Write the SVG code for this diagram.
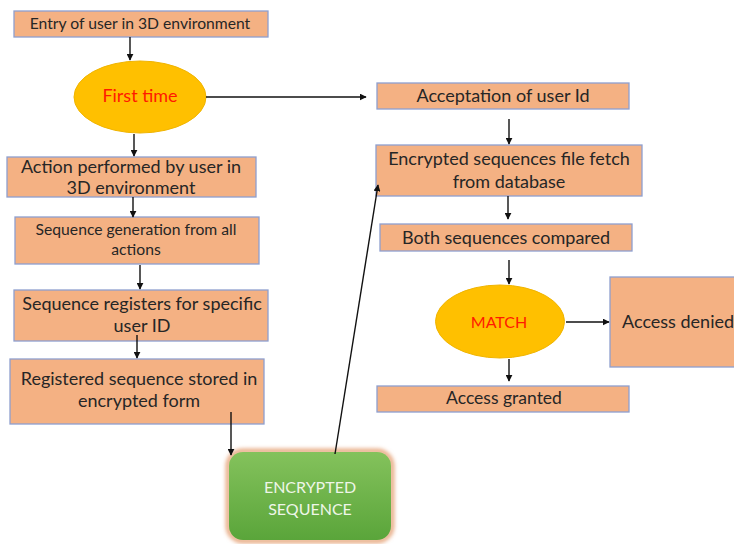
<svg xmlns="http://www.w3.org/2000/svg" width="734" height="544" viewBox="0 0 734 544">
  <style>
    .box { fill: #f4b183; stroke: #8e9fcf; stroke-width: 1.3; }
    .dec { fill: #ffc000; stroke: #f0b400; stroke-width: 1; }
    .t { font-family: Lato, "Open Sans", "Liberation Sans", sans-serif; fill: #262626; text-anchor: middle; font-size: 18px; }
    .sm { font-size: 15.7px; }
    .red { fill: #ff1a00; }
    .light { fill: #eef6e8; font-size: 16px; }
    .wire { stroke: #111; stroke-width: 1.4; fill: none; marker-end: url(#arrow); }
  </style>
  <defs>
    <marker id="arrow" viewBox="0 0 10 10" refX="9" refY="5" markerWidth="7" markerHeight="7" markerUnits="userSpaceOnUse" orient="auto">
      <path d="M0,0 L10,5 L0,10 z" fill="#111"/>
    </marker>
    <linearGradient id="green" x1="0" y1="0" x2="0" y2="1">
      <stop offset="0" stop-color="#84c25c"/>
      <stop offset="1" stop-color="#5aa53a"/>
    </linearGradient>
    <filter id="glow" x="-10%" y="-10%" width="120%" height="120%">
      <feGaussianBlur stdDeviation="2"/>
    </filter>
  </defs>

  <!-- left column: registration path -->
  <g id="entry">
    <rect class="box" x="14" y="11" width="254" height="26"/>
    <text class="t sm" x="140" y="29">Entry of user in 3D environment</text>
  </g>
  <g id="first-time">
    <ellipse class="dec" cx="140" cy="97" rx="66" ry="36"/>
    <text class="t red" x="140" y="102">First time</text>
  </g>
  <g id="action">
    <rect class="box" x="7" y="157" width="249" height="40"/>
    <text class="t" x="131" y="173">Action performed by user in</text>
    <text class="t" x="131" y="194">3D environment</text>
  </g>
  <g id="generation">
    <rect class="box" x="15" y="217" width="244" height="47"/>
    <text class="t sm" x="136" y="235">Sequence generation from all</text>
    <text class="t sm" x="136" y="255">actions</text>
  </g>
  <g id="register">
    <rect class="box" x="14" y="290" width="254" height="51"/>
    <text class="t" x="142" y="310">Sequence registers for specific</text>
    <text class="t" x="142" y="332">user ID</text>
  </g>
  <g id="stored">
    <rect class="box" x="10" y="359" width="254" height="65"/>
    <text class="t" x="139" y="385">Registered sequence stored in</text>
    <text class="t" x="139" y="407">encrypted form</text>
  </g>
  <g id="encrypted-sequence">
    <rect x="228" y="451" width="164" height="90" rx="15" fill="none" stroke="#e39a6a" stroke-width="4" filter="url(#glow)"/>
    <rect x="229" y="452" width="162" height="88" rx="14" fill="url(#green)"/>
    <text class="t light" x="310" y="493">ENCRYPTED</text>
    <text class="t light" x="310" y="515">SEQUENCE</text>
  </g>

  <!-- right column: verification path -->
  <g id="acceptation">
    <rect class="box" x="377" y="83" width="252" height="26"/>
    <text class="t" x="503" y="102">Acceptation of user Id</text>
  </g>
  <g id="fetch">
    <rect class="box" x="376" y="145" width="266" height="51"/>
    <text class="t" x="509" y="165">Encrypted sequences file fetch</text>
    <text class="t" x="509" y="188">from database</text>
  </g>
  <g id="compared">
    <rect class="box" x="380" y="224" width="252" height="27"/>
    <text class="t" x="506" y="244">Both sequences compared</text>
  </g>
  <g id="match">
    <ellipse class="dec" cx="500" cy="321.5" rx="64.5" ry="36.5"/>
    <text class="t red" x="499" y="328" style="font-size:16px">MATCH</text>
  </g>
  <g id="denied">
    <rect class="box" x="610" y="277" width="140" height="90"/>
    <text class="t" x="622" y="328" style="text-anchor:start">Access denied</text>
  </g>
  <g id="granted">
    <rect class="box" x="377" y="386" width="252" height="26"/>
    <text class="t" x="504" y="404" style="font-size:17.5px">Access granted</text>
  </g>

  <g id="connectors">
    <line class="wire" x1="130" y1="37" x2="130" y2="60"/>
    <line class="wire" x1="206" y1="97" x2="366" y2="97"/>
    <line class="wire" x1="134" y1="134" x2="134" y2="156"/>
    <line class="wire" x1="133" y1="197" x2="133" y2="217"/>
    <line class="wire" x1="140" y1="265" x2="140" y2="289"/>
    <line class="wire" x1="137" y1="335" x2="137" y2="358"/>
    <line class="wire" x1="231" y1="412" x2="231" y2="455"/>
    <line class="wire" x1="335" y1="454" x2="378" y2="185"/>
    <line class="wire" x1="509" y1="119" x2="509" y2="144"/>
    <line class="wire" x1="508" y1="196" x2="508" y2="219"/>
    <line class="wire" x1="509" y1="260" x2="509" y2="284"/>
    <line class="wire" x1="566" y1="322" x2="609" y2="322"/>
    <line class="wire" x1="509" y1="359" x2="509" y2="381"/>
  </g>
</svg>
